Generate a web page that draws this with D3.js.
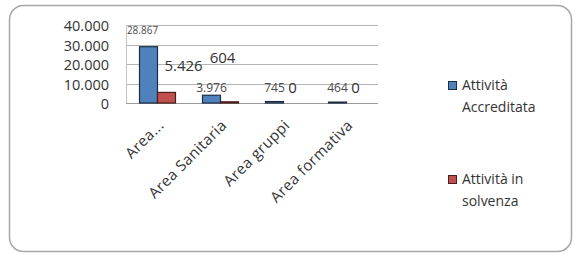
<!DOCTYPE html>
<html>
<head>
<meta charset="utf-8">
<script src="https://cdn.jsdelivr.net/npm/d3@7"></script>
<style>
  html, body { margin: 0; padding: 0; background: #fff; }
  svg { display: block; font-family: "Open Sans", sans-serif; }
</style>
</head>
<body>
<svg id="chart" width="576" height="254"></svg>
<script>
// chart data
var categories = ['Area...', 'Area Sanitaria', 'Area gruppi', 'Area formativa'];
var seriesNames = ['Attività Accreditata', 'Attività in solvenza'];
var accreditata = [28867, 3976, 745, 464];
var solvenza = [5426, 604, 0, 0];
var yTicks = [0, 10000, 20000, 30000, 40000];
var legendLines = [['Attività', 'Accreditata'], ['Attività in', 'solvenza']];

// labels that were dragged by hand in the original (series, category, dx, dy)
var labelMoves = [[0, 0, -6, -9], [1, 0, 17, -19], [1, 1, -7, -30]];

var colors = ['#4f81bd', '#c0504d'];
var strokes = ['#1e2d44', '#4a1c1b'];

var svg = d3.select('#chart');
// note: "top" is window.top, so use other names
var plotLeft = 126, plotRight = 378, plotTop = 25, plotBase = 103;

var fmt = function(v){ return d3.format(',')(v).replace(/,/g, '.'); };

// outer frame
svg.append('rect')
   .attr('x', 9.5).attr('y', 5.5)
   .attr('width', 562).attr('height', 246)
   .attr('rx', 14)
   .style('fill', '#fff')
   .style('stroke', '#a8a8a8')
   .style('stroke-width', 1.5);

var x = d3.scaleBand().domain(categories).range([plotLeft, plotRight]);
var xs = d3.scaleBand().domain([0, 1]).range([0, x.bandwidth()]).paddingOuter(0.75);
var y = d3.scaleLinear().domain([0, 40000]).range([plotBase, plotTop]);

// gridlines
svg.append('g').selectAll('line')
   .data(yTicks)
   .enter()
   .append('line')
   .attr('x1', plotLeft).attr('x2', plotRight)
   .attr('y1', d => Math.round(y(d)) + 0.5)
   .attr('y2', d => Math.round(y(d)) + 0.5)
   .style('stroke', (d) => d === 0 ? '#9a9a9a' : '#b4b4b4')
   .style('stroke-width', 1);

svg.append('line')
   .attr('x1', plotLeft + 0.5).attr('x2', plotLeft + 0.5)
   .attr('y1', plotTop).attr('y2', plotBase)
   .style('stroke', '#c4c4c4');

// y axis labels
var yAxis = d3.axisLeft(y).tickValues(yTicks).tickFormat(fmt).tickSize(0).tickPadding(0);
var yg = svg.append('g')
   .attr('transform', 'translate(109,1)')
   .call(yAxis);
yg.select('.domain').remove();
yg.selectAll('text')
  .style('font-family', '"Open Sans", sans-serif')
  .style('font-size', '14.5px')
  .style('fill', '#333');

// bars
var seriesData = [accreditata, solvenza];
seriesData.forEach(function(vals, s){
    svg.append('g').selectAll('rect')
       .data(vals)
       .enter()
       .append('rect')
       .attr('x', (d, i) => x(categories[i]) + xs(s))
       .attr('y', d => y(d))
       .attr('width', xs.bandwidth())
       .attr('height', d => plotBase - y(d))
       .style('fill', colors[s])
       .style('stroke', strokes[s])
       .style('stroke-width', 1.2);
});

// data labels
seriesData.forEach(function(vals, s){
    svg.append('g').selectAll('text')
       .data(vals)
       .enter()
       .append('text')
       .text(d => fmt(d))
       .attr('x', function(d, i){
           var mv = labelMoves.find(m => m[0] === s && m[1] === i);
           return x(categories[i]) + xs(s) + xs.bandwidth() / 2 + (mv ? mv[2] : 0);
       })
       .attr('y', function(d, i){
           var mv = labelMoves.find(m => m[0] === s && m[1] === i);
           return Math.min(y(d), plotBase - 8) - 8 + (mv ? mv[3] : 0);
       })
       .style('text-anchor', 'middle')
       .style('dominant-baseline', 'central')
       .style('font-size', (d, i) => s === 1 ? '15px' : (i === 0 ? '10px' : '12px'))
       .style('fill', s === 1 ? '#333' : '#4a4a4a');
});

// category labels
svg.append('g').selectAll('text')
   .data(categories)
   .enter()
   .append('text')
   .text(d => d)
   .attr('transform', d => 'translate(' + (x(d) + x.bandwidth() / 2 + 3) + ',' + (plotBase + 19) + ') rotate(-45)')
   .style('text-anchor', 'end')
   .style('dominant-baseline', 'central')
   .style('font-size', '15px')
   .style('letter-spacing', '0.4px')
   .style('fill', '#333');

// legend
var legend = svg.append('g').selectAll('g')
   .data(legendLines)
   .enter()
   .append('g')
   .attr('transform', (d, i) => 'translate(448,' + (81 + i * 94) + ')');
legend.append('rect')
   .attr('width', 8).attr('height', 8)
   .attr('x', 0.5).attr('y', 0.5)
   .style('fill', (d, i) => colors[i])
   .style('stroke', (d, i) => strokes[i]);
legend.append('text')
   .attr('x', 14)
   .attr('y', 4)
   .style('font-size', '14px')
   .style('fill', '#333')
   .selectAll('tspan')
   .data(d => d)
   .enter()
   .append('tspan')
   .attr('x', 14)
   .attr('dy', (d, i) => i === 0 ? '0.35em' : 22)
   .text(d => d);
</script>
</body>
</html>
